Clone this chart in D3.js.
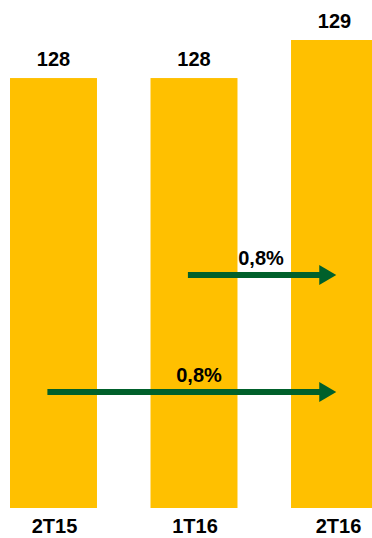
<!DOCTYPE html>
<html>
<head>
<meta charset="UTF-8">
<title>Bars</title>
<script src="https://d3js.org/d3.v7.min.js"></script>
<style>
  body { margin: 0; background: #fff; }
  text { font-family: "Liberation Sans", Arial, sans-serif; font-weight: bold; fill: #000; }
</style>
</head>
<body>
<div id="chart"></div>
<script>
  // data
  let categories = ["2T15", "1T16", "2T16"];
  let values = [128, 128, 129];
  let growthFrom = ["2T15", "1T16"];
  let growthTo = ["2T16", "2T16"];
  let growthLabels = ["0,8%", "0,8%"];

  let width = 372, height = 538;

  let svg = d3.select("#chart")
              .append("svg")
              .attr("width", width)
              .attr("height", height);

  // last bar runs off the right edge, like the original
  let x = d3.scaleBand()
            .domain(categories)
            .range([10, 378])
            .paddingInner(0.381)
            .paddingOuter(0);

  // axis is cut, bars don't start at zero
  let y = d3.scaleLinear()
            .domain([116.7, 129])
            .range([508, 40]);

  svg.selectAll("rect.bar")
     .data(values)
     .join("rect")
     .attr("class", "bar")
     .attr("x", (d, i) => x(categories[i]))
     .attr("y", d => y(d))
     .attr("width", x.bandwidth())
     .attr("height", d => y.range()[0] - y(d))
     .attr("fill", "#FFC000");

  svg.selectAll("text.val")
     .data(values)
     .join("text")
     .attr("class", "val")
     .attr("x", (d, i) => x(categories[i]) + x.bandwidth() / 2)
     .attr("y", d => y(d) - 12)
     .attr("text-anchor", "middle")
     .attr("font-size", 20)
     .text(d => d);

  svg.selectAll("text.cat")
     .data(categories)
     .join("text")
     .attr("class", "cat")
     .attr("x", (d, i) => x(d) + x.bandwidth() / 2 + (i === 2 ? 4 : 1))
     .attr("y", 533)
     .attr("text-anchor", "middle")
     .attr("font-size", 20)
     .text(d => d);

  // growth arrows
  let arrowY = [392, 275];
  let green = "#00602B";
  growthLabels.forEach((lab, i) => {
    let x0 = x(growthFrom[i]) + x.bandwidth() * 0.43;
    let x1 = x(growthTo[i]) + x.bandwidth() * 0.52;
    let yy = arrowY[i];
    svg.append("rect")
       .attr("x", x0)
       .attr("y", yy - 3)
       .attr("width", x1 - x0 - 16)
       .attr("height", 6)
       .attr("fill", green);
    svg.append("path")
       .attr("d", `M${x1 - 17},${yy - 10}L${x1},${yy}L${x1 - 17},${yy + 10}Z`)
       .attr("fill", green);
    svg.append("text")
       .attr("x", i === 0 ? 199 : 261)
       .attr("y", yy - 10)
       .attr("text-anchor", "middle")
       .attr("font-size", 20)
       .text(lab);
  });
</script>
</body>
</html>
